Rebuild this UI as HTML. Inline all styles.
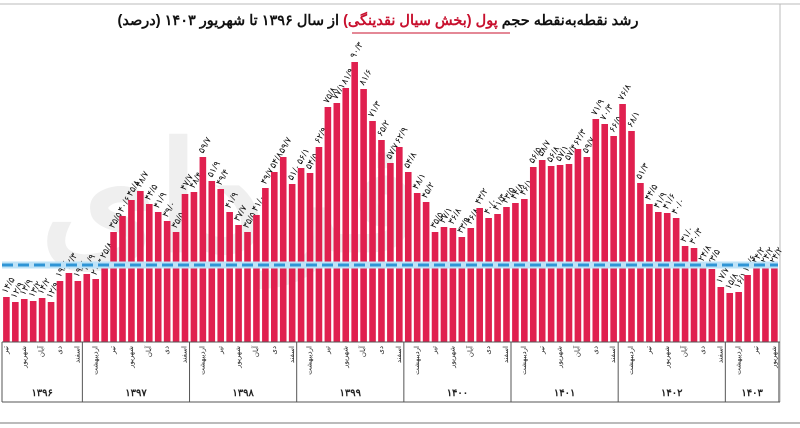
<!DOCTYPE html>
<html><head><meta charset="utf-8"><style>
html,body{margin:0;padding:0;background:#fff;width:800px;height:428px;overflow:hidden}
svg{display:block}
</style></head><body>
<svg id="s" width="800" height="428" xmlns="http://www.w3.org/2000/svg" font-family="'Liberation Sans','Noto Sans CJK SC',sans-serif">
<rect x="0" y="0" width="800" height="428" fill="#fff"/>
<line x1="0" y1="4" x2="800" y2="4" stroke="#bbb" stroke-width="1"/>
<line x1="780" y1="4" x2="780" y2="402" stroke="#bbb" stroke-width="1"/>
<line x1="0" y1="423" x2="800" y2="423" stroke="#bbb" stroke-width="2"/>
<g id="wm" fill="#efefef" font-size="150" font-weight="bold"><text x="40" y="250">فردای</text></g>
<text x="378" y="25" text-anchor="middle" font-size="14.5" font-weight="bold" direction="rtl" fill="#111">رشد نقطه‌به‌نقطه حجم <tspan fill="#c8102e">پول (بخش سیال نقدینگی)</tspan> از سال ۱۳۹۶ تا شهریور ۱۴۰۳ (درصد)</text>
<line x1="352" y1="33" x2="510" y2="33" stroke="#c8102e" stroke-width="1"/>
<g id="bars"></g>
<g id="axis"></g>
</svg>
<script>
var h=[297,302,299,301,298,302,281,273,281,
274,279,262,232,216,200,191,204,212,221,232,194,
192,157,181,189,212,225,232,215,188,172,157,184,
168,173,147,107,103,88,62,89,121,140,163,147,
172,193,202,232,227,228,237,228,208,218,214,207,
203,199,167,160,166,165,164,149,157,119,124,136,
104,131,183,204,212,213,218,246,248,265,269,287,
293,292,275,267,267,267];
var ns="http://www.w3.org/2000/svg",b=document.getElementById('bars'),a=document.getElementById('axis');
function el(t,at,p,txt){var e=document.createElementNS(ns,t);for(var k in at)e.setAttribute(k,at[k]);if(txt)e.textContent=txt;p.appendChild(e);return e;}
var base=342,p=8.93,x0=2;
var dg='۰۱۲۳۴۵۶۷۸۹';
function fa(n){return String(n).replace(/\d/g,function(d){return dg[d];});}
for(var i=0;i<h.length;i++){
 var x=x0+i*p;
 el('rect',{x:x+1.1,y:h[i],width:6.6,height:base-h[i],fill:'#e0204f'},b);
 var v=((base-h[i])/3.1).toFixed(1).replace('.','/');
 var cx=x+4.5,cy=h[i]-3;
 el('text',{x:cx,y:cy,'font-size':9,fill:'#111',transform:'rotate(-60 '+cx+' '+cy+')'},b,fa(v));
}
el('line',{x1:2,y1:265,x2:778,y2:265,stroke:'#bfe3f7','stroke-width':7},b);
el('line',{x1:2,y1:265,x2:778,y2:265,stroke:'#2f95d6','stroke-width':3,'stroke-dasharray':'11,5'},b);
el('line',{x1:2,y1:342,x2:780,y2:342,stroke:'#555','stroke-width':1},a);
el('line',{x1:2,y1:402,x2:780,y2:402,stroke:'#555','stroke-width':1},a);
var yrs=[['۱۳۹۶',0,9],['۱۳۹۷',9,21],['۱۳۹۸',21,33],['۱۳۹۹',33,45],['۱۴۰۰',45,57],['۱۴۰۱',57,69],['۱۴۰۲',69,81],['۱۴۰۳',81,87]];
yrs.forEach(function(y){
 var xs=x0+y[1]*p,xe=x0+y[2]*p;
 el('line',{x1:xs,y1:342,x2:xs,y2:402,stroke:'#555','stroke-width':1},a);
 el('text',{x:(xs+xe)/2,y:396,'text-anchor':'middle','font-size':10,'font-weight':'bold',fill:'#222'},a,y[0]);
});
el('line',{x1:x0+87*p,y1:342,x2:x0+87*p,y2:402,stroke:'#555','stroke-width':1},a);
var mn=['فروردین','اردیبهشت','خرداد','تیر','مرداد','شهریور','مهر','آبان','آذر','دی','بهمن','اسفند'];
var show={1:1,3:1,5:1,7:1,9:1,11:1};
for(var i=0;i<87;i++){
 var m=i<9?i+3:(i-9)%12;
 if(!show[m])continue;
 var cx=x0+i*p+6,cy=346;
 el('text',{x:cx,y:cy,'font-size':7,fill:'#222','text-anchor':'end',transform:'rotate(-90 '+cx+' '+cy+')'},a,mn[m]);
}
</script>
</body></html>
